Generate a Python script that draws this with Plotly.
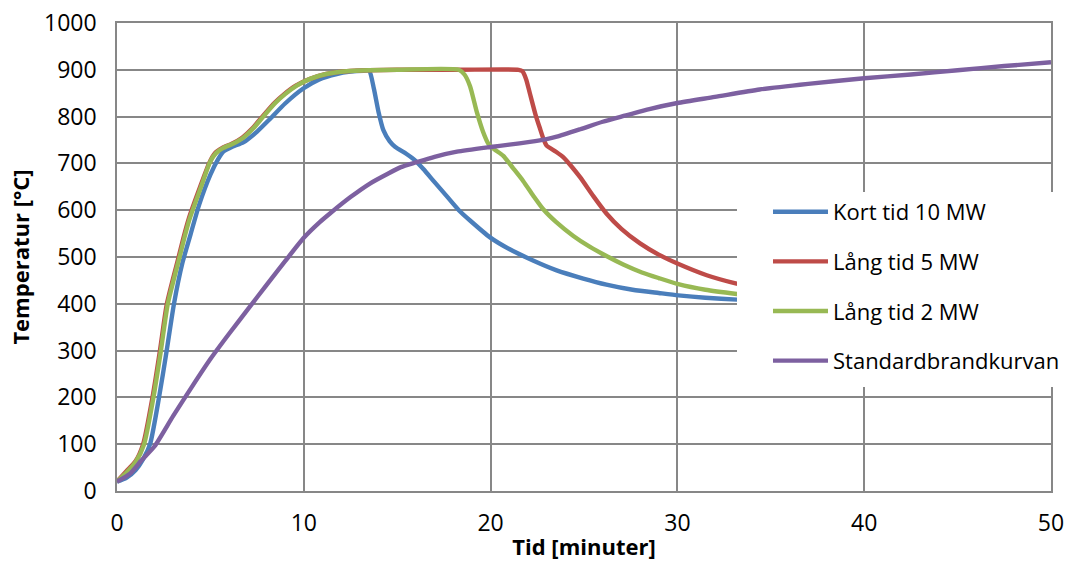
import plotly.graph_objects as go

# Temperature development (°C) against time (minutes) for three fire scenarios
# and the standard fire curve.
kort_t = [0, 0.5, 1.0, 1.4, 1.77, 2.25, 2.66, 3.05, 3.5, 3.9, 4.4, 5.0, 5.4, 5.69,
          6.2, 6.76, 7.5, 8.19, 9.0, 9.97, 10.8, 11.76, 12.5, 13.2, 13.5, 13.75,
          14.0, 14.26, 14.6, 14.9, 15.5, 16.0, 16.4, 17.0, 17.65, 18.3, 18.9, 19.97,
          21.0, 22.3, 23.5, 24.96, 26.2, 27.6, 29.0, 30.05, 31.5, 33.2, 34.5]
kort_temp = [20, 28, 45, 68, 100, 200, 300, 400, 487, 543, 612, 676, 708, 725,
             736, 745, 768, 795, 828, 860, 879, 891, 896, 898, 898, 860,
             810, 771, 747, 735, 720, 705, 688, 660, 630, 600, 578, 542,
             517, 492, 472, 454, 441, 430, 423, 418, 413, 409, 406]

lang5_t = [0, 0.5, 1.0, 1.4, 1.9, 2.3, 2.67, 3.3, 3.55, 3.85, 4.45, 4.93, 5.25, 5.64,
           6.15, 6.7, 7.25, 7.78, 8.45, 8.95, 9.57, 10.3, 11.2, 12.3, 13.5, 15.0,
           18.3, 21.5, 21.7, 21.9, 22.1, 22.4, 22.64, 22.85, 23.0, 23.5, 23.9, 24.3,
           24.8, 25.5, 26.2, 27.0, 28.0, 29.0, 30.0, 31.57, 33.17, 34.5]
lang5_temp = [20, 42, 64, 100, 200, 300, 400, 500, 540, 583, 650, 700, 722, 733,
              742, 755, 775, 800, 830, 848, 866, 880, 891, 897, 899, 900,
              900, 900, 897, 880, 850, 805, 775, 750, 738, 725, 713, 695,
              670, 630, 593, 560, 529, 505, 486, 461, 443, 432]

lang2_t = [0, 0.52, 1.0, 1.45, 1.95, 2.35, 2.72, 3.35, 3.6, 3.9, 4.5, 4.98, 5.3, 5.69,
           6.2, 6.76, 7.3, 7.83, 8.5, 9.0, 9.62, 10.3, 11.2, 12.3, 13.5, 15.0,
           18.3, 18.6, 18.9, 19.26, 19.6, 19.88, 20.2, 20.68, 21.2, 21.75, 22.3,
           22.82, 23.5, 24.43, 25.3, 26.2, 27.1, 28.1, 29.0, 30.05, 31.5, 33.17, 34.5]
lang2_temp = [20, 40, 62, 100, 200, 300, 400, 500, 540, 583, 650, 703, 722, 733,
              742, 755, 775, 800, 830, 848, 866, 880, 891, 897, 899, 900,
              900, 890, 865, 810, 767, 742, 730, 716, 690, 662, 630,
              602, 575, 545, 522, 502, 484, 467, 455, 442, 430, 421, 415]

std_t = [0, 0.7, 1.3, 2.0, 3.0, 4.0, 5.0, 6.0, 7.0, 8.0, 9.0, 10.0, 10.87, 11.4,
         12.5, 13.54, 14.5, 15.2, 16.0, 17.0, 18.2, 20.0, 21.0, 22.1, 23.0, 23.54,
         24.8, 26.0, 27.3, 28.5, 30.0, 32.0, 34.4, 37.0, 40.0, 42.5, 45.0, 47.5, 50.0]
std_temp = [20, 37, 65, 95, 160, 222, 282, 336, 388, 440, 491, 541, 575, 593,
            628, 657, 678, 692, 702, 714, 725, 735, 740, 746, 752, 757,
            773, 789, 803, 816, 829, 842, 858, 870, 882, 890, 899, 908, 916]

series = [
    ("Kort tid 10 MW", kort_t, kort_temp, "#4A7EBB"),
    ("Lång tid 5 MW", lang5_t, lang5_temp, "#BE4B48"),
    ("Lång tid 2 MW", lang2_t, lang2_temp, "#98B954"),
    ("Standardbrandkurvan", std_t, std_temp, "#7D60A0"),
]

FONT = "Open Sans"
GRID = "#878787"

fig = go.Figure()
for i, (name, t, temp, color) in enumerate(series):
    fig.add_trace(go.Scatter(
        x=t, y=temp, name=name, mode="lines",
        line=dict(color=color, width=4.4, shape="spline", smoothing=0.6),
        legendgroup=f"g{i}",
    ))

# White panel behind the legend, hiding grid and curves in that corner
fig.add_shape(
    type="rect", xref="paper", yref="paper",
    x0=0.6638, x1=1.03, y0=0.2222, y1=0.6389,
    fillcolor="white", line=dict(width=0), layer="above",
)

fig.update_layout(
    width=1070, height=561,
    margin=dict(l=117, r=19, t=23, b=70, autoexpand=False),
    paper_bgcolor="white", plot_bgcolor="white",
    font=dict(family=FONT, color="black", size=22),
    showlegend=True,
    legend=dict(
        x=0.697, y=0.641, xanchor="left", yanchor="top",
        bgcolor="rgba(0,0,0,0)", borderwidth=0,
        font=dict(family=FONT, size=22, color="black"),
        tracegroupgap=18, itemwidth=55,
    ),
)

fig.update_xaxes(
    range=[0, 50], dtick=10, tick0=0, automargin=False,
    showgrid=True, gridcolor=GRID, gridwidth=1.6,
    showline=True, linecolor=GRID, linewidth=1.6, mirror=True,
    zeroline=False, ticks="", ticklabelstandoff=11,
    tickfont=dict(family=FONT, size=23, color="black"),
    title=dict(text="<b>Tid [minuter]</b>", standoff=4,
               font=dict(family=FONT, size=22, color="black")),
)
fig.update_yaxes(
    range=[0, 1000], dtick=100, tick0=0, automargin=False,
    showgrid=True, gridcolor=GRID, gridwidth=1.6,
    showline=True, linecolor=GRID, linewidth=1.6, mirror=True,
    zeroline=False, ticks="", ticklabelstandoff=14,
    tickfont=dict(family=FONT, size=23, color="black"),
    title=dict(text="<b>Temperatur [°C]</b>", standoff=8,
               font=dict(family=FONT, size=22, color="black")),
)

fig.write_html("out.html")
